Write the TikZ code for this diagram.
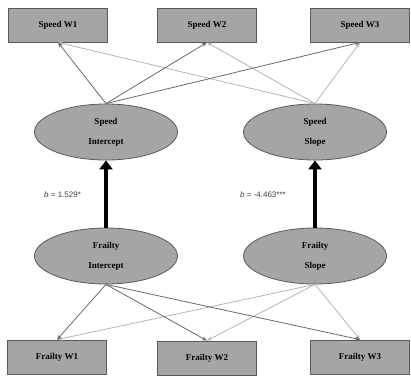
\documentclass[tikz,border=0pt]{standalone}
\usepackage{fontspec}
\setmainfont{Liberation Serif}
\setsansfont{Liberation Sans}
\usetikzlibrary{arrows.meta,shapes.geometric}
\definecolor{boxfill}{RGB}{165,165,165}
\definecolor{boxline}{RGB}{90,90,90}
\definecolor{darkarr}{RGB}{105,105,105}
\definecolor{lightarr}{RGB}{180,180,180}
\begin{document}
\begin{tikzpicture}[x=1pt,y=-1pt,
  obs/.style={draw=boxline,line width=0.8pt,fill=boxfill,minimum width=99pt,minimum height=34pt,inner sep=0pt,font=\fontsize{9}{10}\selectfont\bfseries},
  lat/.style={draw=boxline,line width=0.8pt,fill=boxfill,ellipse,minimum width=143pt,minimum height=56pt,inner sep=0pt,align=center,font=\fontsize{9}{20}\selectfont\bfseries},
  darkline/.style={draw=darkarr,line width=0.8pt,-{Stealth[length=5pt,width=4pt]}},
  lightline/.style={draw=lightarr,line width=0.8pt,-{Stealth[length=5pt,width=4pt]}},
  bigarr/.style={draw=black,line width=3.5pt,-{Triangle[length=9pt,width=13pt]}},
  lab/.style={font=\sffamily\fontsize{8}{9}\selectfont,text=black!75,inner sep=0pt}]
\useasboundingbox (0,0) rectangle (411,375);
\node[obs] (sw1) at (58,25) {Speed W1};
\node[obs] (sw2) at (207,25) {Speed W2};
\node[obs] (sw3) at (360,25) {Speed W3};
\node[lat] (si) at (106,132) {Speed\\Intercept};
\node[lat] (ss) at (315,132) {Speed\\Slope};
\node[lat] (fi) at (106,256) {Frailty\\Intercept};
\node[lat] (fs) at (315,256) {Frailty\\Slope};
\node[obs] (fw1) at (57,357) {Frailty W1};
\node[obs] (fw2) at (207,358) {Frailty W2};
\node[obs] (fw3) at (360,357) {Frailty W3};
% top connectors
\draw[lightline] (ss.north) -- (sw1.south);
\draw[lightline] (ss.north) -- (sw2.south);
\draw[lightline] (ss.north) -- (sw3.south);
\draw[darkline] (si.north) -- (sw1.south);
\draw[darkline] (si.north) -- (sw2.south);
\draw[darkline] (si.north) -- (sw3.south);
% bottom connectors
\draw[lightline] (fs.south) -- (fw1.north);
\draw[lightline] (fs.south) -- (fw2.north);
\draw[lightline] (fs.south) -- (fw3.north);
\draw[darkline] (fi.south) -- (fw1.north);
\draw[darkline] (fi.south) -- (fw2.north);
\draw[darkline] (fi.south) -- (fw3.north);
% regressions
\draw[bigarr] (fi.north) -- (si.south);
\draw[bigarr] (fs.north) -- (ss.south);
\node[lab,anchor=west] (l1) at (44,195) {\textit{b} = 1.529*};
\node[lab,anchor=west] (l2) at (240,195) {\textit{b} = -4.463***};
\end{tikzpicture}
\end{document}
